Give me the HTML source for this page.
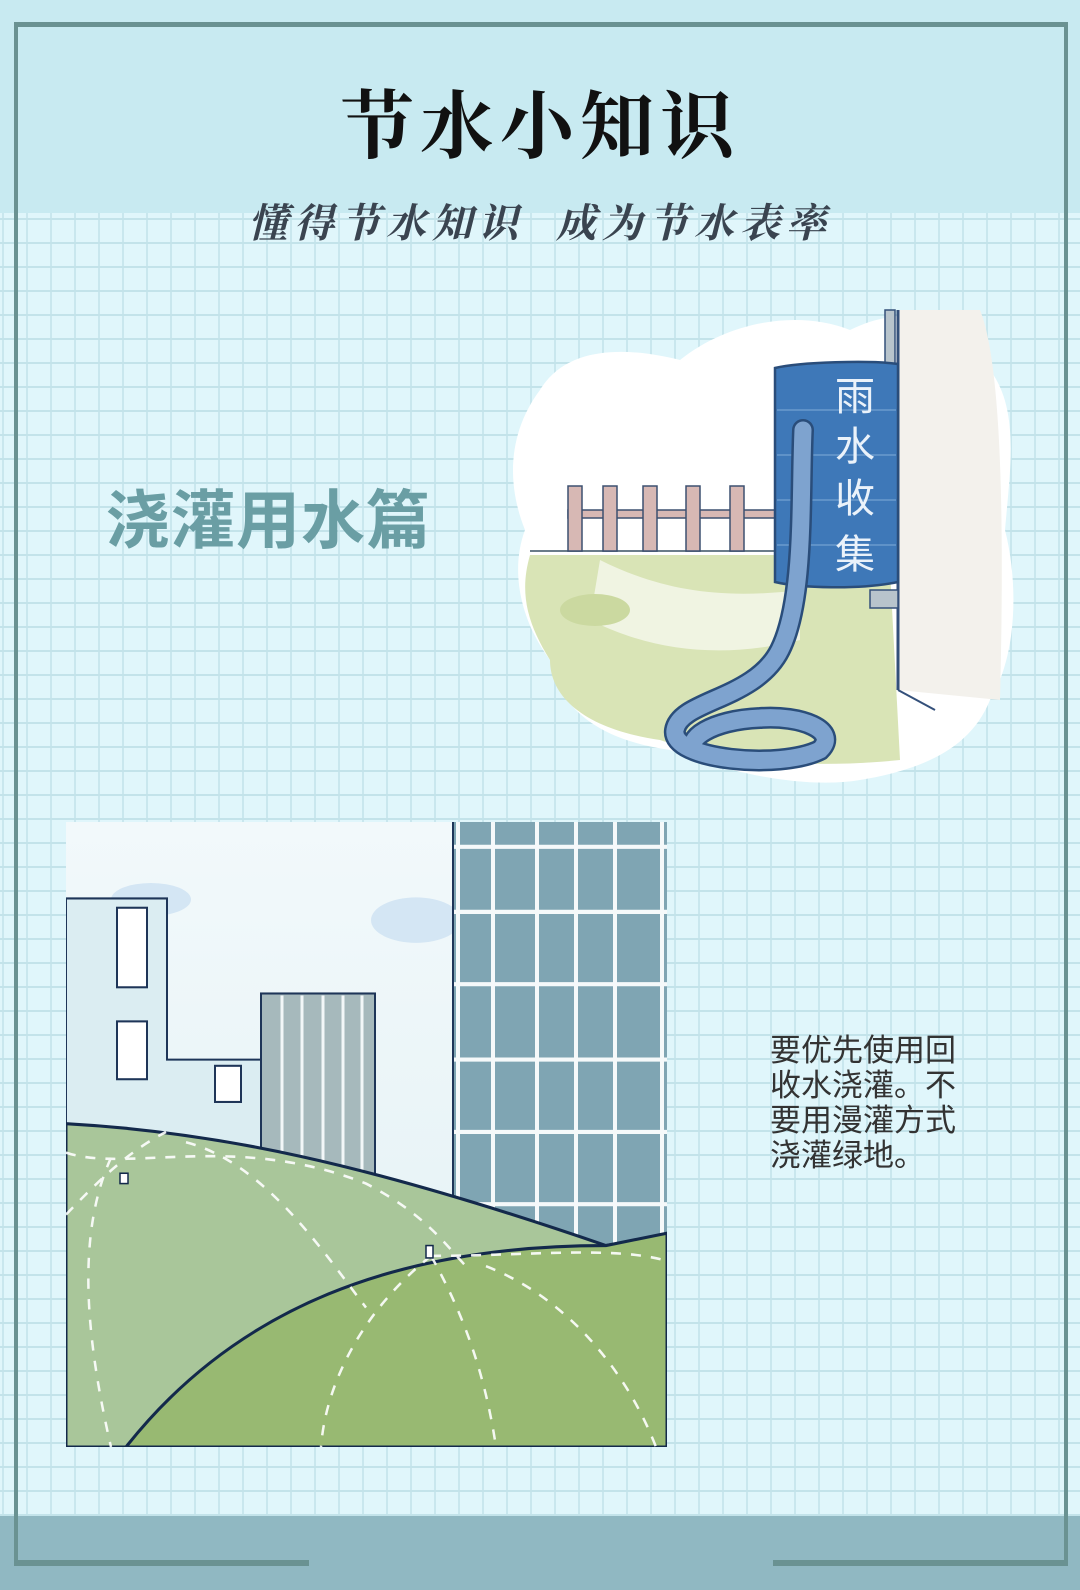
<!DOCTYPE html>
<html><head><meta charset="utf-8">
<style>
html,body{margin:0;padding:0}
body{width:1080px;height:1590px;position:relative;overflow:hidden;background:#e0f6fb;font-family:"Liberation Sans","Noto Sans CJK SC",sans-serif}
.grid{position:absolute;left:0;top:0;width:1080px;height:1590px;
background-image:linear-gradient(#c3e3ea 2px,transparent 2px),linear-gradient(90deg,#c9e7ee 2px,transparent 2px);
background-size:24px 24px;background-position:0 2px,2px 0}
.head{position:absolute;left:0;top:0;width:1080px;height:213px;background:#c8eaf1}
.foot{position:absolute;left:0;top:1516px;width:1080px;height:74px;background:#90b8c2}
.ab{position:absolute}
</style></head><body>
<div class="grid"></div>
<div class="head"></div>
<div class="foot"></div>
<div class="ab" style="left:14px;top:22px;width:1054px;height:5px;background:#6a9292"></div>
<div class="ab" style="left:14px;top:22px;width:4px;height:1544px;background:#6a9292"></div>
<div class="ab" style="left:1064px;top:22px;width:4px;height:1544px;background:#6a9292"></div>
<div class="ab" style="left:14px;top:1560px;width:295px;height:6px;background:#6a9292"></div>
<div class="ab" style="left:773px;top:1560px;width:295px;height:6px;background:#6a9292"></div>

<div class="ab" style="left:0;top:68px;width:1080px;text-align:center;font-size:74px;font-weight:bold;color:#111;letter-spacing:6px;font-family:'Liberation Serif','Noto Serif CJK SC',serif">节水小知识</div>
<div class="ab" style="left:0;top:192px;width:1080px;text-align:center;font-size:40px;font-weight:bold;color:#3a4450;letter-spacing:6px;font-family:'Liberation Serif','Noto Serif CJK SC',serif;font-style:italic">懂得节水知识&nbsp;&nbsp;成为节水表率</div>

<div class="ab" style="left:106px;top:470px;font-size:64px;font-weight:bold;color:#6a9ea4;letter-spacing:1px">浇灌用水篇</div>

<div class="ab" style="left:770px;top:1033px;font-size:31px;line-height:35px;color:#333;width:230px">要优先使用回<br>收水浇灌。不<br>要用漫灌方式<br>浇灌绿地。</div>

<svg class="ab" style="left:500px;top:300px" width="520" height="500" viewBox="0 0 520 500">
<path d="M40 90 C70 40 140 50 180 60 C230 20 300 10 350 30 C400 5 460 10 490 70 C520 110 510 170 505 230 C520 290 515 360 490 400 C470 450 420 470 360 480 C300 490 220 470 170 450 C100 440 60 410 50 360 C20 320 10 270 25 230 C5 180 10 130 40 90Z" fill="#fff"/>
<path d="M30 255 L280 255 L390 270 L400 460 C300 470 220 460 160 440 C90 430 50 400 50 360 C25 320 20 290 30 255Z" fill="#d9e4b6"/>
<path d="M100 260 C160 290 220 300 300 290 L300 340 C220 360 150 350 90 320Z" fill="#fff" opacity=".6"/>
<ellipse cx="95" cy="310" rx="35" ry="16" fill="#cbd9a0"/>
<line x1="30" y1="251" x2="280" y2="251" stroke="#6a7c8a" stroke-width="2"/>
<rect x="68" y="210" width="207" height="8" fill="#d7b8b4" stroke="#3d5070" stroke-width="1.5"/>
<g fill="#d7b8b4" stroke="#3d5070" stroke-width="1.5">
<rect x="68" y="186" width="14" height="65"/><rect x="103" y="186" width="14" height="65"/><rect x="143" y="186" width="14" height="65"/><rect x="186" y="186" width="14" height="65"/><rect x="230" y="186" width="14" height="65"/>
</g>
<path d="M398 10 L480 10 C500 60 505 200 500 400 L398 390Z" fill="#f3f1ec"/>
<line x1="398" y1="10" x2="398" y2="390" stroke="#34507a" stroke-width="3"/>
<line x1="398" y1="390" x2="435" y2="410" stroke="#34507a" stroke-width="2"/>
<rect x="385" y="10" width="10" height="60" fill="#b8c4cc" stroke="#34507a" stroke-width="1.5"/>
<rect x="370" y="290" width="28" height="18" fill="#b8c4cc" stroke="#34507a" stroke-width="1.5"/>
<path d="M275 68 C300 62 370 60 398 64 L398 282 C360 290 300 288 275 282Z" fill="#3e78b8" stroke="#2a4d7a" stroke-width="2.5"/>
<g stroke="#5f92c8" stroke-width="2"><line x1="277" y1="110" x2="396" y2="110"/><line x1="277" y1="155" x2="396" y2="155"/><line x1="277" y1="200" x2="396" y2="200"/><line x1="277" y1="245" x2="396" y2="245"/></g>
<text x="355" y="110" font-size="40" fill="#eaf2fa" text-anchor="middle" font-family="'Noto Sans CJK SC',sans-serif">雨</text>
<text x="355" y="160" font-size="40" fill="#eaf2fa" text-anchor="middle" font-family="'Noto Sans CJK SC',sans-serif">水</text>
<text x="355" y="212" font-size="40" fill="#eaf2fa" text-anchor="middle" font-family="'Noto Sans CJK SC',sans-serif">收</text>
<text x="355" y="268" font-size="40" fill="#eaf2fa" text-anchor="middle" font-family="'Noto Sans CJK SC',sans-serif">集</text>
<path d="M303 130 C300 200 305 300 280 350 C255 400 180 400 175 430 C170 460 280 470 320 450 C340 430 300 415 260 418 C210 420 185 440 195 450" fill="none" stroke="#2a4d7a" stroke-width="22" stroke-linecap="round"/>
<path d="M303 130 C300 200 305 300 280 350 C255 400 180 400 175 430 C170 460 280 470 320 450 C340 430 300 415 260 418 C210 420 185 440 195 450" fill="none" stroke="#7ea3cf" stroke-width="17" stroke-linecap="round"/>
</svg>

<svg class="ab" style="left:66px;top:822px" width="601" height="625" viewBox="0 0 601 605" preserveAspectRatio="none">
<defs><linearGradient id="sky" x1="0" y1="0" x2="0" y2="1"><stop offset="0" stop-color="#f2f9fb"/><stop offset="1" stop-color="#e2f0f4"/></linearGradient></defs>
<rect width="601" height="605" fill="url(#sky)"/>
<ellipse cx="85" cy="75" rx="40" ry="16" fill="#d4e6f4"/>
<ellipse cx="350" cy="95" rx="45" ry="22" fill="#d4e6f4"/>
<path d="M0 74 L101 74 L101 230 L195 230 L195 320 L0 320Z" fill="#dbedf2" stroke="#1e3558" stroke-width="2"/>
<rect x="51" y="83" width="30" height="77" fill="#fff" stroke="#1e3558" stroke-width="2"/>
<rect x="51" y="193" width="30" height="56" fill="#fff" stroke="#1e3558" stroke-width="2"/>
<rect x="149" y="236" width="26" height="35" fill="#fff" stroke="#1e3558" stroke-width="2"/>
<rect x="195" y="166" width="114" height="180" fill="#a6b9bc" stroke="#1e3558" stroke-width="2"/>
<g stroke="#f2f7f8" stroke-width="3"><line x1="216" y1="168" x2="216" y2="346"/><line x1="236" y1="168" x2="236" y2="346"/><line x1="257" y1="168" x2="257" y2="346"/><line x1="277" y1="168" x2="277" y2="346"/><line x1="296" y1="168" x2="296" y2="346"/></g>
<rect x="387" y="0" width="214" height="420" fill="#7fa5b3"/>
<g stroke="#f5f9fa" stroke-width="4">
<line x1="392" y1="0" x2="392" y2="420"/><line x1="427" y1="0" x2="427" y2="420"/><line x1="471" y1="0" x2="471" y2="420"/><line x1="510" y1="0" x2="510" y2="420"/><line x1="549" y1="0" x2="549" y2="420"/><line x1="596" y1="0" x2="596" y2="420"/>
<line x1="387" y1="24" x2="601" y2="24"/><line x1="387" y1="87" x2="601" y2="87"/><line x1="387" y1="157" x2="601" y2="157"/><line x1="387" y1="230" x2="601" y2="230"/><line x1="387" y1="300" x2="601" y2="300"/><line x1="387" y1="370" x2="601" y2="370"/>
</g>
<line x1="387" y1="0" x2="387" y2="420" stroke="#1e3558" stroke-width="2"/>
<path d="M0 292 C150 300 300 330 540 410 L601 400 L601 605 L0 605Z" fill="#a9c69a" stroke="#13294b" stroke-width="3"/>
<path d="M60 605 C170 470 330 410 540 410 L601 398 L601 605Z" fill="#98b972" stroke="#13294b" stroke-width="3"/>
<g fill="none" stroke="#fff" stroke-width="2.5" stroke-dasharray="10 10" opacity=".9">
<path d="M0 320 C60 340 170 300 300 350 C360 380 380 410 400 430"/>
<path d="M45 325 C10 400 20 500 45 605"/>
<path d="M120 310 C200 330 260 420 300 470"/>
<path d="M0 380 C30 350 60 320 100 300"/>
<path d="M365 420 C460 420 550 410 601 425"/>
<path d="M365 420 C300 470 260 540 255 605"/>
<path d="M365 420 C400 480 420 540 430 605"/>
<path d="M420 430 C500 460 560 530 590 605"/>
</g>
<rect x="54" y="340" width="8" height="10" fill="#fff" stroke="#13294b" stroke-width="1.5"/>
<rect x="360" y="410" width="7" height="12" fill="#fff" stroke="#13294b" stroke-width="1.5"/>
</svg>
</body></html>
